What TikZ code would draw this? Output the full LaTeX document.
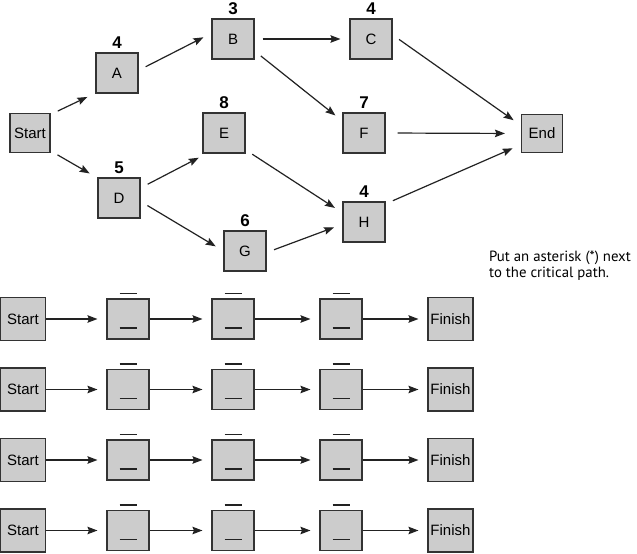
\documentclass[tikz,border=0pt]{standalone}
\usepackage{fontspec}
\setmainfont{Liberation Sans}
\newfontfamily\notefont{PT Sans}
\usepackage{tikz}
\usetikzlibrary{arrows.meta}
\definecolor{boxfill}{RGB}{204,204,204}
\definecolor{boxline}{RGB}{51,51,51}
\definecolor{arrclr}{RGB}{34,34,34}
\tikzset{
  task/.style={rectangle,draw=boxline,line width=1.1pt,fill=boxfill,
               minimum width=42pt,minimum height=40pt,inner sep=0pt,
               font=\fontsize{15}{18}\selectfont},
  termbox/.style={task,minimum width=40pt,minimum height=39pt},
  rowend/.style={task,minimum width=45pt,minimum height=43pt},
  num/.style={font=\fontsize{17}{18}\selectfont\bfseries,inner sep=1pt,
              label distance=3pt},
  link/.style={-{Stealth[length=10pt,width=7.5pt,inset=1.5pt]},line width=1.2pt,
               draw=arrclr,shorten <=8pt,shorten >=9pt},
  chain/.style={link,shorten <=0pt},
  blank/.style={line width=1.2pt,draw=arrclr},
}

\begin{document}
\begin{tikzpicture}[x=1pt,y=-1pt]
\useasboundingbox[fill=white] (0,0) rectangle (637,554);

% network
\node[termbox] (start) at (30,133) {Start};
\node[task,label={[num]above:4}] (A) at (117,73) {A};
\node[task,label={[num]above:3}] (B) at (233,39) {B};
\node[task,label={[num]above:4}] (C) at (371,39) {C};
\node[task,label={[num]above:5}] (D) at (119,198) {D};
\node[task,label={[num]above:8}] (E) at (224,133) {E};
\node[task,label={[num]above:7}] (F) at (364,133) {F};
\node[task,label={[num]above:6}] (G) at (245,251) {G};
\node[task,label={[num]above:4}] (H) at (364,222) {H};
\node[termbox,minimum width=41pt,minimum height=38pt] (endtask) at (542,133.5) {End};

\draw[link] (start.42) -- (A.-137);
\draw[link] (start.-41) -- (D.137);
\draw[link] (A.7) -- (B.165);
\draw[link] (B.east) -- (C.west);
\draw[link] (B.-29) -- (F.151);
\draw[link] (C.11) -- (endtask.159);
\draw[link,shorten <=12pt,shorten >=16pt] (F.east) -- (endtask.west);
\draw[link] (H.40) -- (endtask.-152);
\draw[link] (D.25) -- (E.230);
\draw[link] (D.-9) -- (G.west);
\draw[link] (E.-38) -- (H.157);
\draw[link] (G.-4) -- (H.186);

\node[anchor=north west,inner sep=0pt,align=left,
      font=\notefont\fontsize{14.8}{15.5}\selectfont] (note) at (489,251)
  {Put an asterisk (*) next\\to the critical path.};

% answer rows
\foreach \r in {0,...,3}{
  \node[rowend] (s\r) at (23,{319+70.5*\r}) {Start};
  \node[rowend] (f\r) at (450.5,{319+70.5*\r}) {Finish};
  \foreach \c/\x in {1/128,2/233,3/341}{
    \node[task] (m\r\c) at (\x,{319+70.5*\r}) {};
    \draw[blank] ([xshift=-8.5pt,yshift=5pt]m\r\c.north) -- ++(17pt,0);
    \draw[blank] ([xshift=-8.5pt,yshift=-9pt]m\r\c.center) -- ++(17pt,0);
  }
  \draw[chain] (s\r) -- (m\r1);
  \draw[chain] (m\r1) -- (m\r2);
  \draw[chain] (m\r2) -- (m\r3);
  \draw[chain] (m\r3) -- (f\r);
}
\end{tikzpicture}
\end{document}
